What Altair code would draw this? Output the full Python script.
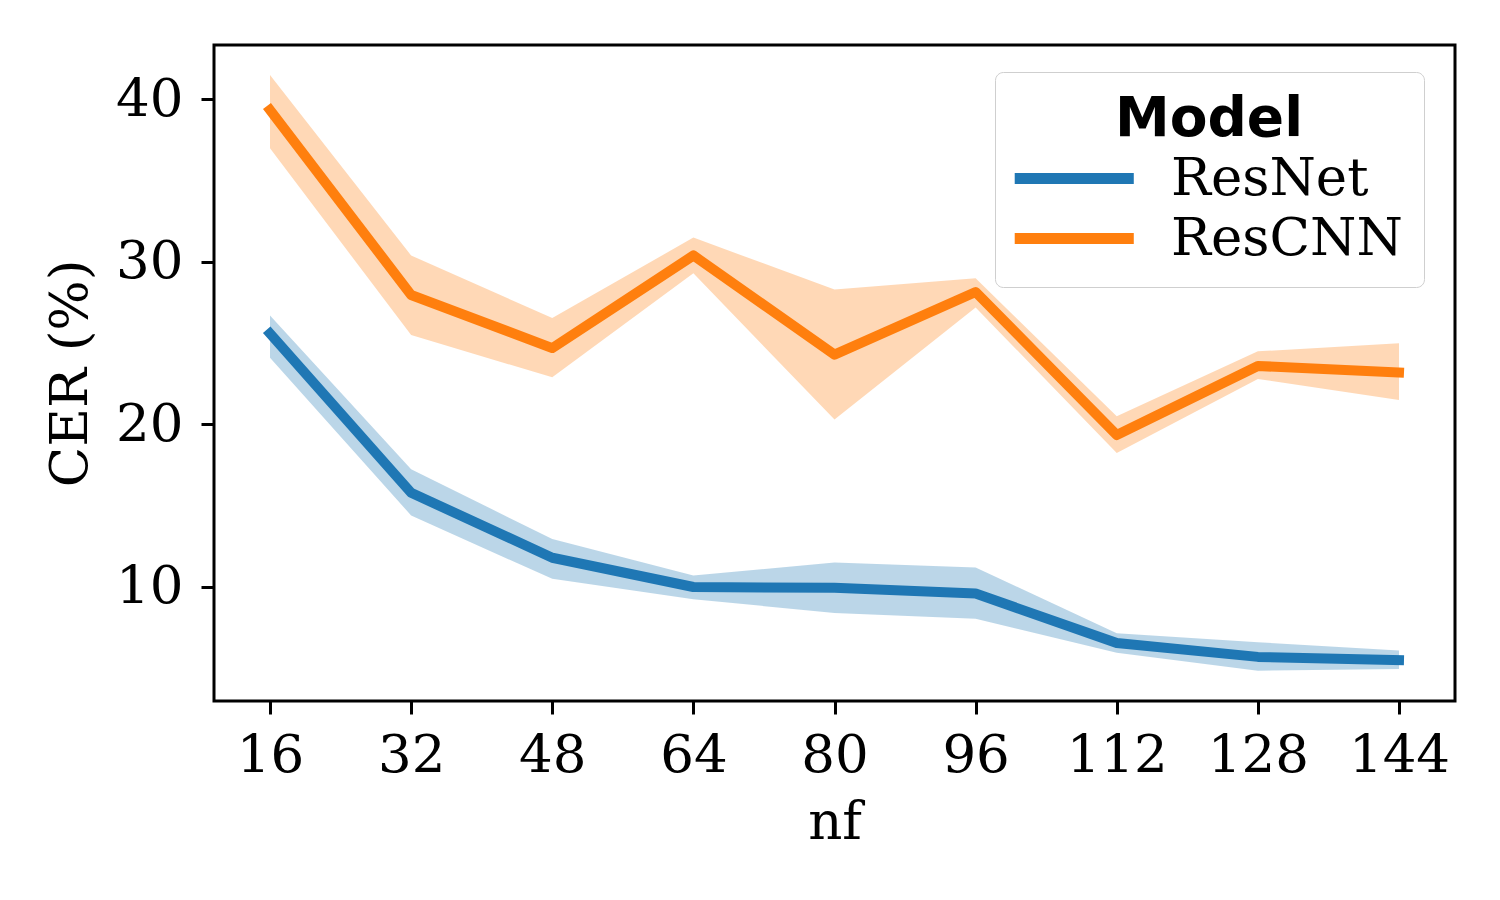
import altair as alt
import pandas as pd

nf = [16, 32, 48, 64, 80, 96, 112, 128, 144]
resnet_mean = [25.6, 15.8, 11.8, 10.0, 9.95, 9.6, 6.55, 5.7, 5.5]
resnet_lo = [24.1, 14.4, 10.5, 9.25, 8.4, 8.05, 5.95, 4.85, 4.95]
resnet_hi = [26.7, 17.25, 12.95, 10.7, 11.5, 11.2, 7.15, 6.6, 6.1]
rescnn_mean = [39.35, 27.97, 24.7, 30.4, 24.3, 28.15, 19.35, 23.6, 23.2]
rescnn_lo = [37.0, 25.5, 22.9, 29.3, 20.3, 27.2, 18.25, 22.8, 21.5]
rescnn_hi = [41.5, 30.4, 26.55, 31.5, 28.3, 29.0, 20.5, 24.5, 25.0]
models = ["ResNet", "ResCNN"]
colors = ["#1f77b4", "#ff7f0e"]

rows = []
for m, mean, lo, hi in [("ResNet", resnet_mean, resnet_lo, resnet_hi),
                        ("ResCNN", rescnn_mean, rescnn_lo, rescnn_hi)]:
    for i, x in enumerate(nf):
        rows.append({"Model": m, "nf": x, "CER": mean[i], "lo": lo[i], "hi": hi[i]})
df = pd.DataFrame(rows)

SERIF = "DejaVu Serif"
FS = 53

xscale = alt.Scale(domain=[9.65, 150.35], nice=False, zero=False)
yscale = alt.Scale(domain=[2.985, 43.35], nice=False, zero=False)
cscale = alt.Scale(domain=models, range=colors)

xaxis = alt.Axis(values=nf, title="nf", grid=False, tickSize=13, tickWidth=3,
                 tickColor="black", domain=False, labelFont=SERIF, labelFontSize=FS,
                 labelColor="black", titleFont=SERIF, titleFontSize=FS,
                 titleFontWeight="normal", titleColor="black", labelPadding=15,
                 titlePadding=14, labelFlush=False)
yaxis = alt.Axis(values=[10, 20, 30, 40], title="CER (%)", grid=False, tickSize=13,
                 tickWidth=3, tickColor="black", domain=False, labelFont=SERIF,
                 labelFontSize=FS, labelColor="black", titleFont=SERIF,
                 titleFontSize=FS, titleFontWeight="normal", titleColor="black",
                 labelPadding=18, titlePadding=18, labelFlush=False)


def build(extra):
    base = alt.Chart(df)
    band = base.mark_area(opacity=0.3, clip=True).encode(
        x=alt.X("nf:Q", scale=xscale, axis=xaxis),
        y=alt.Y("lo:Q", scale=yscale, axis=yaxis),
        y2="hi:Q",
        color=alt.Color("Model:N", scale=cscale, legend=None),
    )
    line = base.mark_line(strokeWidth=10, strokeCap="square", strokeJoin="round").encode(
        x=alt.X("nf:Q", scale=xscale),
        y=alt.Y("CER:Q", scale=yscale),
        color=alt.Color(
            "Model:N", scale=cscale,
            legend=alt.Legend(
                title="Model", orient="none", legendX=781, legendY=27,
                titleFont="DejaVu Sans", titleFontSize=55, titleFontWeight="bold",
                titleColor="black", titleAnchor="middle", titleLimit=800,
                titlePadding=4, labelFont=SERIF, labelFontSize=FS, labelColor="black",
                labelOffset=102, symbolType="M-1.4,0L4.6,0", symbolSize=1575,
                symbolStrokeWidth=11, rowPadding=6, padding=21,
                fillColor="white", strokeColor="#cfcfcf", cornerRadius=8,
                labelLimit=600, **extra,
            ),
        ),
    )
    return alt.layer(band, line).resolve_scale(color="independent").resolve_legend(
        color="independent"
    ).properties(
        width=1241, height=656,
        autosize=alt.AutoSizeParams(type="none"),
        padding={"left": 206, "top": 37, "right": 30, "bottom": 180},
        background="white",
    ).configure_view(stroke="black", strokeWidth=3)


try:
    chart = build({"strokeWidth": 3})
    chart.save("out.html", embed_options={"renderer": "svg", "actions": False})
except Exception:
    chart = build({})
    chart.save("out.html", embed_options={"renderer": "svg", "actions": False})
